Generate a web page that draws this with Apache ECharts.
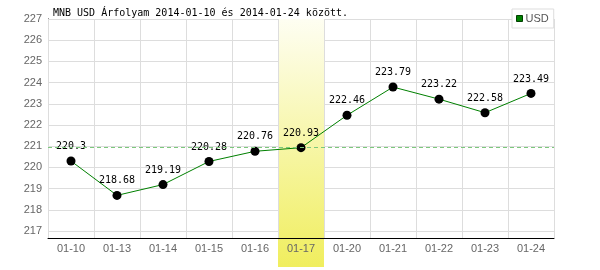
<!DOCTYPE html>
<html>
<head>
<meta charset="utf-8">
<script src="https://cdn.jsdelivr.net/npm/echarts@6/dist/echarts.min.js"></script>
<style>html,body{margin:0;padding:0;background:#fff}#c{width:600px;height:270px}</style>
</head>
<body>
<div id="c"></div>
<script>
var titleText = 'MNB USD Árfolyam 2014-01-10 és 2014-01-24 között.';
var categories = ['01-10','01-13','01-14','01-15','01-16','01-17','01-20','01-21','01-22','01-23','01-24'];
var usdValues = [220.3, 218.68, 219.19, 220.28, 220.76, 220.93, 222.46, 223.79, 223.22, 222.58, 223.49];
var yTickValues = [217, 218, 219, 220, 221, 222, 223, 224, 225, 226, 227];
var yMin = 216.67, yMax = 227;
var highlightCategory = '01-17';
var referenceValue = 220.93;

var bandData = categories.map(function (c) { return c === highlightCategory ? 1 : null; });
var refLineStyle = {color: '#7cc87c', type: [4, 3], width: 1, opacity: 1};

var chart = echarts.init(document.getElementById('c'), null, {renderer: 'canvas'});
chart.setOption({
  animation: false,
  backgroundColor: '#fff',
  title: {
    text: titleText, left: 53, top: 8, padding: 0,
    textStyle: {fontFamily: 'DejaVu Sans Mono', fontSize: 10, fontWeight: 'normal', color: '#000'}
  },
  legend: {
    data: ['USD'], left: 512, top: 9, padding: [4, 5, 4, 4],
    backgroundColor: '#fff', borderColor: '#ddd', borderWidth: 1,
    icon: 'rect', itemWidth: 6, itemHeight: 6, itemGap: 4,
    textStyle: {fontFamily: 'Liberation Sans', fontSize: 11, color: '#555', padding: [0, 0, 0, -2]},
    itemStyle: {color: '#008000', borderColor: '#004000', borderWidth: 1}
  },
  grid: [
    {left: 48, right: 46, top: 19, bottom: 32},
    {left: 48, right: 46, top: 19, bottom: 3}
  ],
  xAxis: [
    {
      type: 'category', data: categories, gridIndex: 0, z: 3,
      axisLine: {lineStyle: {color: '#000', width: 1}},
      axisTick: {show: false},
      axisLabel: {color: '#666', fontFamily: 'Liberation Sans', fontSize: 11, margin: 5},
      splitLine: {show: true, lineStyle: {color: '#ddd', width: 1}}
    },
    {type: 'category', data: categories, gridIndex: 1, show: false}
  ],
  yAxis: [
    {
      type: 'value', min: yMin, max: yMax, gridIndex: 0, z: 0,
      axisLine: {show: true, lineStyle: {color: '#000', width: 1}},
      axisTick: {show: false, customValues: yTickValues},
      axisLabel: {customValues: yTickValues, color: '#666', fontFamily: 'Liberation Sans', fontSize: 11, margin: 6},
      splitLine: {show: true, lineStyle: {color: '#ddd', width: 1}}
    },
    {type: 'value', min: 0, max: 1, gridIndex: 1, show: false}
  ],
  series: [
    {
      name: 'ref', type: 'line', data: usdValues, z: 1, silent: true,
      symbol: 'none', lineStyle: {opacity: 0}, label: {show: false},
      markLine: {
        silent: true, symbol: 'none', label: {show: false},
        lineStyle: refLineStyle,
        emphasis: {disabled: true},
        data: [{yAxis: referenceValue, lineStyle: refLineStyle}]
      }
    },
    {
      name: 'band', type: 'bar', xAxisIndex: 1, yAxisIndex: 1, data: bandData,
      barWidth: '100%', silent: true, z: 2, legendHoverLink: false,
      itemStyle: {color: new echarts.graphic.LinearGradient(0, 0, 0, 1, [
        {offset: 0, color: '#fefef2'}, {offset: 1, color: '#f0ee5e'}
      ])}
    },
    {
      name: 'USD', type: 'line', data: usdValues, z: 4,
      symbol: 'circle', symbolSize: 9,
      itemStyle: {color: '#000'},
      lineStyle: {color: '#008000', width: 1},
      label: {show: true, position: 'top', distance: 5, color: '#000', fontFamily: 'DejaVu Sans Mono', fontSize: 10}
    }
  ]
});
</script>
</body>
</html>
